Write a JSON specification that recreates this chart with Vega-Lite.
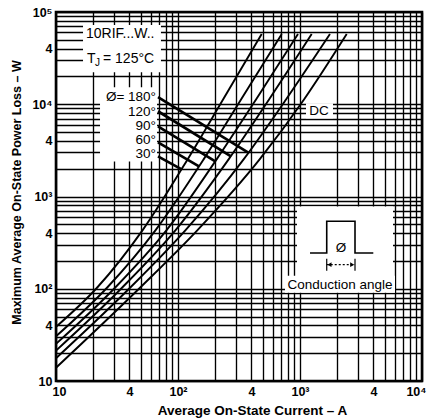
{
  "$schema": "https://vega.github.io/schema/vega-lite/v6.json",
  "width": 366,
  "height": 369,
  "autosize": {"type": "none"},
  "padding": {"left": 56, "top": 12, "right": 5, "bottom": 38},
  "background": "white",
  "config": {
    "view": {"stroke": "black", "strokeWidth": 2.6},
    "font": "Liberation Sans",
    "axis": {
      "ticks": false,
      "domain": false,
      "grid": true,
      "gridColor": "black",
      "gridWidth": 1.35,
      "gridOpacity": 1,
      "labelFont": "Liberation Sans",
      "labelFontSize": 12.5,
      "labelFontWeight": "bold",
      "labelColor": "black",
      "labelPadding": 4,
      "labelFlush": false,
      "labelOverlap": false,
      "labelBound": false,
      "titleFont": "Liberation Sans",
      "titleFontWeight": "bold",
      "titleColor": "black"
    }
  },
  "datasets": {
    "curves": [
      {"s": "30", "x": 10, "y": 38.6}, {"s": "30", "x": 21.68, "y": 102.5}, {"s": "30", "x": 51.66, "y": 437.8}, {"s": "30", "x": 119.8, "y": 2525}, {"s": "30", "x": 234.7, "y": 11330}, {"s": "30", "x": 485.5, "y": 57670},
      {"s": "60", "x": 10, "y": 30.5}, {"s": "60", "x": 26.18, "y": 102.5}, {"s": "60", "x": 66.0, "y": 437.8}, {"s": "60", "x": 162.1, "y": 2525}, {"s": "60", "x": 329.6, "y": 11330}, {"s": "60", "x": 707.9, "y": 57670},
      {"s": "90", "x": 10, "y": 25.25}, {"s": "90", "x": 30.45, "y": 102.5}, {"s": "90", "x": 81.24, "y": 437.8}, {"s": "90", "x": 207.2, "y": 2525}, {"s": "90", "x": 437.5, "y": 11330}, {"s": "90", "x": 962.9, "y": 57670},
      {"s": "120", "x": 10, "y": 21.35}, {"s": "120", "x": 34.75, "y": 102.5}, {"s": "120", "x": 96.3, "y": 437.8}, {"s": "120", "x": 259.9, "y": 2525}, {"s": "120", "x": 559.3, "y": 11330}, {"s": "120", "x": 1247, "y": 57670},
      {"s": "180", "x": 10, "y": 17.65}, {"s": "180", "x": 40.43, "y": 102.5}, {"s": "180", "x": 116.3, "y": 437.8}, {"s": "180", "x": 344.9, "y": 2525}, {"s": "180", "x": 770.7, "y": 11330}, {"s": "180", "x": 1761, "y": 57670},
      {"s": "DC", "x": 10, "y": 13.92}, {"s": "DC", "x": 48.8, "y": 102.5}, {"s": "DC", "x": 145.8, "y": 437.8}, {"s": "DC", "x": 466.6, "y": 2525}, {"s": "DC", "x": 1082, "y": 11330}, {"s": "DC", "x": 2415, "y": 57670}
    ],
    "boxes": [
      {"x": 16.65, "x2": 72.5, "y": 72240, "y2": 22270},
      {"x": 22.95, "x2": 67.3, "y": 15300, "y2": 2401},
      {"x": 1120, "x2": 1864, "y": 10250, "y2": 7043},
      {"x": 944.9, "x2": 5785, "y": 778.6, "y2": 135.0},
      {"x": 753.4, "x2": 6007, "y": 138.4, "y2": 90.5}
    ],
    "leaders": [
      {"x": 68.56, "y": 11920, "x2": 376.9, "y2": 2985},
      {"x": 68.56, "y": 8393, "x2": 271.9, "y2": 2721},
      {"x": 68.56, "y": 5767, "x2": 202.2, "y2": 2401},
      {"x": 68.56, "y": 3864, "x2": 148.6, "y2": 2119},
      {"x": 68.56, "y": 2721, "x2": 107.2, "y2": 1966}
    ],
    "pulse": [
      {"o": 1, "x": 1208, "y": 244.3},
      {"o": 2, "x": 1656, "y": 244.3},
      {"o": 3, "x": 1656, "y": 538.9},
      {"o": 4, "x": 2824, "y": 538.9},
      {"o": 5, "x": 2824, "y": 244.3},
      {"o": 6, "x": 3989, "y": 244.3}
    ],
    "dimticks": [
      {"x": 1656, "x2": 1656, "y": 211.9, "y2": 156.9},
      {"x": 2824, "x2": 2824, "y": 211.9, "y2": 156.9}
    ],
    "dimline": [
      {"x": 1656, "x2": 2824, "y": 182.4, "y2": 182.4}
    ],
    "heads": [
      {"k": "l", "x": 1745, "y": 182.4},
      {"k": "r", "x": 2679, "y": 182.4}
    ],
    "texts": [
      {"k": "left", "t": "10RIF...W..", "x": 17.62, "y": 57670},
      {"k": "left", "t": "T", "x": 17.95, "y": 30840},
      {"k": "left", "t": "= 125°C", "x": 24.28, "y": 30840},
      {"k": "sub", "t": "J", "x": 20.88, "y": 27910},
      {"k": "right", "t": "Ø= 180°", "x": 66.0, "y": 11920},
      {"k": "right", "t": "120°", "x": 66.0, "y": 8185},
      {"k": "right", "t": "90°", "x": 66.0, "y": 5767},
      {"k": "right", "t": "60°", "x": 66.0, "y": 4062},
      {"k": "right", "t": "30°", "x": 66.0, "y": 2861},
      {"k": "center", "t": "DC", "x": 1431, "y": 8500},
      {"k": "center", "t": "Ø", "x": 2168, "y": 279.1},
      {"k": "center", "t": "Conduction angle", "x": 2128, "y": 110.5}
    ]
  },
  "encoding": {
    "x": {
      "field": "x",
      "type": "quantitative",
      "scale": {"type": "log", "domain": [10, 10000], "nice": false},
      "axis": {
        "values": [10, 20, 30, 40, 50, 60, 70, 80, 90, 100, 200, 300, 400, 500, 600, 700, 800, 900, 1000, 2000, 3000, 4000, 5000, 6000, 7000, 8000, 9000, 10000],
        "labelExpr": "datum.value==10?'10':datum.value==100?'10²':datum.value==1000?'10³':datum.value==10000?'10⁴':(datum.value==40||datum.value==400||datum.value==4000)?'4':''",
        "labelFlush": true,
        "labelFlushOffset": 4,
        "title": "Average On-State Current – A",
        "titleFontSize": 13.5,
        "titleX": 196,
        "titleY": 33,
        "titleBaseline": "alphabetic"
      }
    },
    "y": {
      "field": "y",
      "type": "quantitative",
      "scale": {"type": "log", "domain": [10, 100000], "nice": false},
      "axis": {
        "values": [10, 20, 30, 40, 50, 60, 70, 80, 90, 100, 200, 300, 400, 500, 600, 700, 800, 900, 1000, 2000, 3000, 4000, 5000, 6000, 7000, 8000, 9000, 10000, 20000, 30000, 40000, 50000, 60000, 70000, 80000, 90000, 100000],
        "labelExpr": "datum.value==10?'10':datum.value==100?'10²':datum.value==1000?'10³':datum.value==10000?'10⁴':datum.value==100000?'10⁵':(datum.value==40||datum.value==400||datum.value==4000||datum.value==40000)?'4':''",
        "title": "Maximum Average On-State Power Loss – W",
        "titleFontSize": 12.5,
        "titleX": -36,
        "titleY": 180,
        "titleBaseline": "alphabetic"
      }
    }
  },
  "layer": [
    {
      "data": {"name": "boxes"},
      "mark": {"type": "rect", "fill": "white", "strokeWidth": 0},
      "encoding": {"x2": {"field": "x2"}, "y2": {"field": "y2"}}
    },
    {
      "data": {"name": "curves"},
      "mark": {"type": "line", "stroke": "black", "strokeWidth": 1.9, "interpolate": "monotone"},
      "encoding": {"detail": {"field": "s"}}
    },
    {
      "data": {"name": "leaders"},
      "mark": {"type": "rule", "stroke": "black", "strokeWidth": 2.7},
      "encoding": {"x2": {"field": "x2"}, "y2": {"field": "y2"}}
    },
    {
      "data": {"name": "pulse"},
      "mark": {"type": "line", "stroke": "black", "strokeWidth": 1.6},
      "encoding": {"order": {"field": "o", "type": "quantitative"}}
    },
    {
      "data": {"name": "dimticks"},
      "mark": {"type": "rule", "stroke": "black", "strokeWidth": 1.2},
      "encoding": {"x2": {"field": "x2"}, "y2": {"field": "y2"}}
    },
    {
      "data": {"name": "dimline"},
      "mark": {"type": "rule", "stroke": "black", "strokeWidth": 1.2, "strokeDash": [2, 2]},
      "encoding": {"x2": {"field": "x2"}, "y2": {"field": "y2"}}
    },
    {
      "data": {"name": "heads"},
      "transform": [{"filter": "datum.k=='l'"}],
      "mark": {"type": "point", "shape": "triangle-left", "filled": true, "color": "black", "size": 22, "opacity": 1},
      "encoding": {}
    },
    {
      "data": {"name": "heads"},
      "transform": [{"filter": "datum.k=='r'"}],
      "mark": {"type": "point", "shape": "triangle-right", "filled": true, "color": "black", "size": 22, "opacity": 1},
      "encoding": {}
    },
    {
      "data": {"name": "texts"},
      "transform": [{"filter": "datum.k=='left'"}],
      "mark": {"type": "text", "align": "left", "baseline": "middle", "fontSize": 14, "color": "black", "font": "Liberation Sans"},
      "encoding": {"text": {"field": "t"}}
    },
    {
      "data": {"name": "texts"},
      "transform": [{"filter": "datum.k=='sub'"}],
      "mark": {"type": "text", "align": "left", "baseline": "middle", "fontSize": 10, "color": "black", "font": "Liberation Sans"},
      "encoding": {"text": {"field": "t"}}
    },
    {
      "data": {"name": "texts"},
      "transform": [{"filter": "datum.k=='right'"}],
      "mark": {"type": "text", "align": "right", "baseline": "middle", "fontSize": 13.5, "color": "black", "font": "Liberation Sans"},
      "encoding": {"text": {"field": "t"}}
    },
    {
      "data": {"name": "texts"},
      "transform": [{"filter": "datum.k=='center'"}],
      "mark": {"type": "text", "align": "center", "baseline": "middle", "fontSize": 13.5, "color": "black", "font": "Liberation Sans"},
      "encoding": {"text": {"field": "t"}}
    }
  ]
}
